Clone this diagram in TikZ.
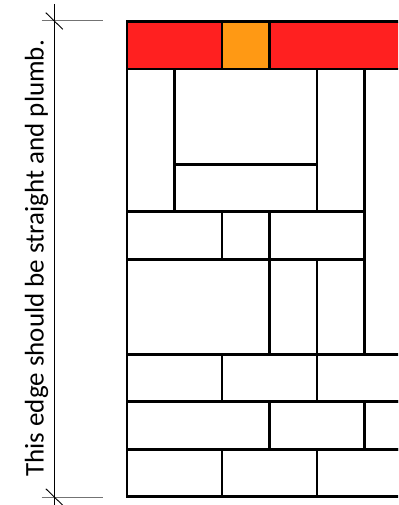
\documentclass[tikz,border=0pt]{standalone}
\usepackage{fontspec}
\setmainfont{Carlito}
\definecolor{brickred}{RGB}{255,32,32}
\definecolor{brickorange}{RGB}{255,153,20}
\begin{document}
\begin{tikzpicture}[x=1bp,y=-1bp,
  brick/.style={draw=black,line width=2.6bp},
  dimline/.style={draw=black,line width=0.9bp},
  extline/.style={draw=black!55,line width=1bp},
  tickmark/.style={draw=black,line width=0.9bp}]
\useasboundingbox (0,0) rectangle (398,505);
\clip (0,0) rectangle (398,505);
\begin{scope}[shift={(127,21.7)},x=47.5bp,y=-47.5bp]
  % top course
  \draw[brick,fill=brickred] (0,0) rectangle (2,1);
  \draw[brick,fill=brickorange] (2,0) rectangle (3,1);
  \draw[brick,fill=brickred] (3,0) rectangle (6.5,1);
  % rows 1-4
  \draw[brick] (0,1) rectangle (1,4);
  \draw[brick] (1,1) rectangle (4,3);
  \draw[brick] (1,3) rectangle (4,4);
  \draw[brick] (4,1) rectangle (5,4);
  % row 4-5
  \draw[brick] (0,4) rectangle (2,5);
  \draw[brick] (2,4) rectangle (3,5);
  \draw[brick] (3,4) rectangle (5,5);
  % rows 5-7
  \draw[brick] (0,5) rectangle (3,7);
  \draw[brick] (3,5) rectangle (4,7);
  \draw[brick] (4,5) rectangle (5,7);
  % row 7-8
  \draw[brick] (0,7) rectangle (2,8);
  \draw[brick] (2,7) rectangle (4,8);
  \draw[brick] (4,7) rectangle (6.5,8);
  % row 8-9
  \draw[brick] (0,8) rectangle (3,9);
  \draw[brick] (3,8) rectangle (5,9);
  \draw[brick] (5,8) rectangle (6.5,9);
  % row 9-10
  \draw[brick] (0,9) rectangle (2,10);
  \draw[brick] (2,9) rectangle (4,10);
  \draw[brick] (4,9) rectangle (6.5,10);
\end{scope}
% dimension
\coordinate (dtop) at (54.3,4);
\coordinate (dbot) at (54.3,505);
\coordinate (ta) at (54.3,21);
\coordinate (tb) at (54.3,497);
\draw[extline] (41.7,21) -- (102.7,21);
\draw[extline] (41.7,497) -- (102.7,497);
\draw[dimline] (dtop) -- (dbot);
\draw[tickmark] ([shift={(-8.5,-8.3)}]ta) -- ([shift={(8.5,8.3)}]ta);
\draw[tickmark] ([shift={(-8.5,-8.3)}]tb) -- ([shift={(8.5,8.3)}]tb);
\node[rotate=90,anchor=base,inner sep=0pt,font=\fontsize{27bp}{32bp}\selectfont] (label) at (43.5,258.3) {This edge should be straight and plumb.};
\end{tikzpicture}
\end{document}
